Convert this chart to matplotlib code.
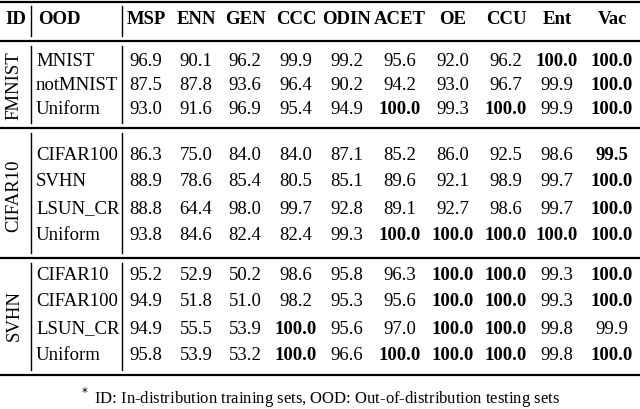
import matplotlib.pyplot as plt

plt.rcParams['font.family'] = ['Liberation Serif', 'DejaVu Serif']

methods = ['MSP', 'ENN', 'GEN', 'CCC', 'ODIN', 'ACET', 'OE', 'CCU', 'Ent', 'Vac']
groups = ['FMNIST', 'CIFAR10', 'SVHN']
ood_sets = [
    ['MNIST', 'notMNIST', 'Uniform'],
    ['CIFAR100', 'SVHN', 'LSUN_CR', 'Uniform'],
    ['CIFAR10', 'CIFAR100', 'LSUN_CR', 'Uniform'],
]
values = [
    [[96.9, 90.1, 96.2, 99.9, 99.2, 95.6, 92.0, 96.2, 100.0, 100.0],
     [87.5, 87.8, 93.6, 96.4, 90.2, 94.2, 93.0, 96.7, 99.9, 100.0],
     [93.0, 91.6, 96.9, 95.4, 94.9, 100.0, 99.3, 100.0, 99.9, 100.0]],
    [[86.3, 75.0, 84.0, 84.0, 87.1, 85.2, 86.0, 92.5, 98.6, 99.5],
     [88.9, 78.6, 85.4, 80.5, 85.1, 89.6, 92.1, 98.9, 99.7, 100.0],
     [88.8, 64.4, 98.0, 99.7, 92.8, 89.1, 92.7, 98.6, 99.7, 100.0],
     [93.8, 84.6, 82.4, 82.4, 99.3, 100.0, 100.0, 100.0, 100.0, 100.0]],
    [[95.2, 52.9, 50.2, 98.6, 95.8, 96.3, 100.0, 100.0, 99.3, 100.0],
     [94.9, 51.8, 51.0, 98.2, 95.3, 95.6, 100.0, 100.0, 99.3, 100.0],
     [94.9, 55.5, 53.9, 100.0, 95.6, 97.0, 100.0, 100.0, 99.8, 99.9],
     [95.8, 53.9, 53.2, 100.0, 96.6, 100.0, 100.0, 100.0, 99.8, 100.0]],
]
footnote = 'ID: In-distribution training sets, OOD: Out-of-distribution testing sets'

W, H = 640, 409
fig = plt.figure(figsize=(6.4, 4.09), dpi=100)
ax = fig.add_axes([0, 0, 1, 1])
ax.set_xlim(0, W)
ax.set_ylim(H, 0)
ax.axis('off')

col_x = [146, 196, 245, 296, 347, 400, 453, 506, 557, 612]
fs = 13.5

# header
ax.text(16, 20, 'ID', ha='center', va='center', fontsize=fs, weight='bold')
ax.text(38, 20, 'OOD', ha='left', va='center', fontsize=fs, weight='bold')
for x, m in zip(col_x, methods):
    ax.text(x, 20, m, ha='center', va='center', fontsize=fs, weight='bold')

row_ys = [[62, 86, 110], [155, 182, 209, 236], [276, 302, 329, 356]]
for g, name in enumerate(groups):
    ys = row_ys[g]
    ax.text(14, sum(ys) / len(ys), name, ha='center', va='center',
            rotation=90, fontsize=fs)
    for y, ood, row in zip(ys, ood_sets[g], values[g]):
        ax.text(36, y, ood, ha='left', va='center', fontsize=fs)
        best = max(row)
        for x, v in zip(col_x, row):
            ax.text(x, y, f'{v:.1f}', ha='center', va='center', fontsize=fs,
                    weight='bold' if v == best else 'normal')

# rules
hlines = [2, 41, 128, 258, 375]
for y in hlines:
    ax.plot([0, 640], [y, y], color='black', lw=1.6)
segments = [(6, 36), (46, 123), (133, 253), (263, 370)]
for x in (31, 122):
    for y0, y1 in segments:
        ax.plot([x, x], [y0, y1], color='black', lw=1.0)

ax.text(320, 398, '$^*$ ' + footnote, ha='center', va='center', fontsize=12)

fig.savefig('out.png', dpi=100)
